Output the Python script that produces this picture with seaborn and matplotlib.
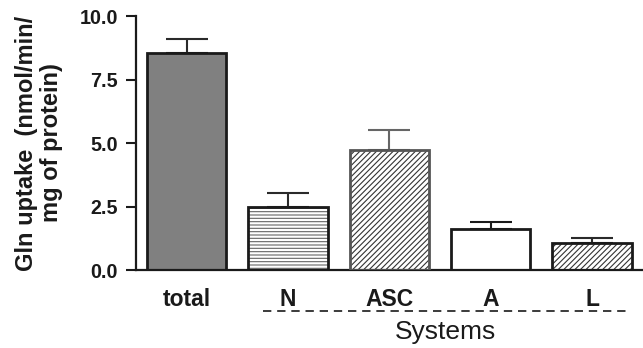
import matplotlib
matplotlib.use("Agg")
import matplotlib.pyplot as plt
import matplotlib.transforms as mtransforms
import seaborn as sns
import pandas as pd

# Glutamine uptake by transport system
categories = ["total", "N", "ASC", "A", "L"]
uptake = [8.55, 2.49, 4.72, 1.61, 1.05]
sem = [0.53, 0.53, 0.79, 0.27, 0.22]
yticks = [0.0, 2.5, 5.0, 7.5, 10.0]

fills = ["#808080", "white", "white", "white", "white"]
hatches = ["", "-----", "//////", "", "//////"]
hatch_colors = ["#808080", "#666666", "#333333", "white", "#333333"]
outline_colors = ["#1a1a1a", "#1a1a1a", "#555555", "#1a1a1a", "#1a1a1a"]
err_colors = ["#2a2a2a", "#2a2a2a", "#666666", "#1a1a1a", "#2a2a2a"]

sns.set_theme(style="ticks")
plt.rcParams["font.family"] = ["Liberation Sans", "DejaVu Sans"]
plt.rcParams["hatch.linewidth"] = 0.8

df = pd.DataFrame({"system": categories, "uptake": uptake})

fig = plt.figure(figsize=(6.43, 3.48), dpi=100)
ax = fig.add_axes([0.2115, 0.224, 0.788, 0.730])

BAR_W = 0.78
sns.barplot(data=df, x="system", y="uptake", order=categories, ax=ax,
            errorbar=None, width=BAR_W, color="white", linewidth=0)

for patch, fc, h, hc in zip(ax.patches, fills, hatches, hatch_colors):
    patch.set_facecolor(fc)
    patch.set_edgecolor(hc)
    patch.set_hatch(h)
    patch.set_linewidth(0)

# error bars (upper side only)
for i, (m, e, c) in enumerate(zip(uptake, sem, err_colors)):
    ax.errorbar(i, m, yerr=[[0], [e]], fmt="none", ecolor=c,
                elinewidth=1.5, capsize=14.8, capthick=1.5, zorder=1)

# bar outlines on top of the hatching
ax.bar(range(len(categories)), uptake, width=BAR_W, fill=False,
       edgecolor=outline_colors, linewidth=2.0, zorder=3)

ax.set_xlim(-0.5, 4.5)
ax.set_ylim(0, 10)
ax.set_yticks(yticks)
ax.set_yticklabels([f"{v:.1f}" for v in yticks])
sns.despine(ax=ax)
for s in ("left", "bottom"):
    ax.spines[s].set_linewidth(1.6)
    ax.spines[s].set_color("#1a1a1a")

ax.tick_params(axis="y", length=7, width=1.5, color="#1a1a1a", pad=6,
               labelsize=14.2, labelcolor="#1a1a1a")
ax.tick_params(axis="x", length=0, pad=13, labelsize=16.5, labelcolor="#1a1a1a")
for lab in ax.get_xticklabels() + ax.get_yticklabels():
    lab.set_fontweight("bold")

ax.set_xlabel("")
ax.set_ylabel("Gln uptake  (nmol/min/\nmg of protein)", fontsize=17,
              fontweight="bold", color="#1a1a1a", labelpad=12,
              linespacing=1.1)

# dashed bracket under the transport systems
trans = mtransforms.blended_transform_factory(ax.transData, ax.transAxes)
ax.plot([0.75, 4.35], [-0.162, -0.162], transform=trans, clip_on=False,
        color="#1a1a1a", linewidth=1.2, linestyle=(0, (5, 3.5)))
ax.text(2.55, -0.272, "Systems", transform=trans, ha="center",
        va="baseline", fontsize=19, color="#1a1a1a")

fig.savefig("out.png", dpi=100)
